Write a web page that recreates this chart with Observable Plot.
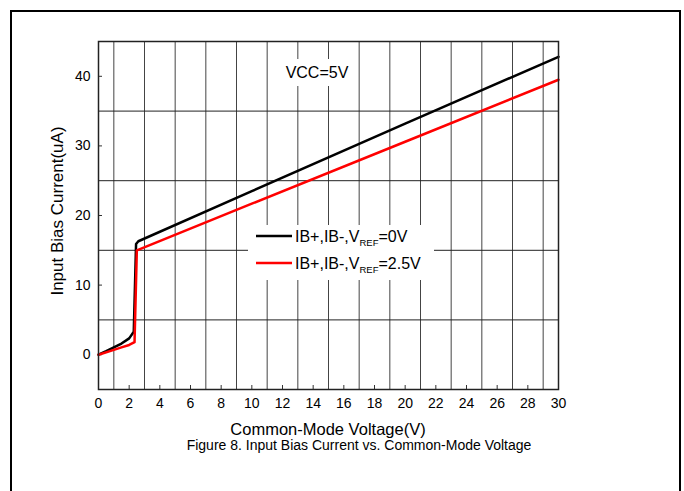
<!DOCTYPE html>
<html>
<head>
<meta charset="utf-8">
<script src="https://cdn.jsdelivr.net/npm/d3@7"></script>
<script src="https://cdn.jsdelivr.net/npm/@observablehq/plot@0.6"></script>
<style>
  html, body { margin: 0; padding: 0; background: #fff; overflow: hidden; }
  #wrap { position: relative; width: 684px; height: 491px; }
  #border { position: absolute; left: 10px; top: 10px; width: 671px; height: 500px; border: 2px solid #000; box-sizing: border-box; pointer-events: none; }
  svg { font-family: "Liberation Sans", Arial, sans-serif; }
</style>
</head>
<body>
<div id="wrap"><div id="border"></div></div>
<script>
// Data
const blackX = [0, 0.5, 1, 1.5, 2, 2.3, 2.45, 2.6, 10, 20, 30];
const blackY = [0, 0.5, 1.05, 1.6, 2.35, 3.3, 15.9, 16.3, 23.5, 33.2, 42.8];
const redX = [0, 1, 1.5, 2, 2.35, 2.5, 10, 20, 30];
const redY = [0, 0.7, 1.05, 1.4, 1.8, 15.0, 21.7, 30.6, 39.5];
const seriesNames = ["IB+,IB-,VREF=0V", "IB+,IB-,VREF=2.5V"];
const seriesColors = ["#000000", "#ff0000"];
const xTicks = d3.range(0, 31, 2);
const yTicks = [0, 10, 20, 30, 40];
const xGrid = d3.range(1, 30, 2);
const yGrid = [5, 15, 25, 35];

const black = blackX.map((x, i) => ({x, y: blackY[i], s: seriesNames[0]}));
const red = redX.map((x, i) => ({x, y: redY[i], s: seriesNames[1]}));

const plot = Plot.plot({
  width: 684,
  height: 491,
  marginLeft: 98,
  marginRight: 126,
  marginTop: 41,
  marginBottom: 102,
  style: {fontFamily: "Liberation Sans, Arial, sans-serif", background: "transparent"},
  x: {domain: [0, 30]},
  y: {domain: [-5, 45]},
  marks: [
    Plot.ruleX(xGrid, {stroke: "#444", strokeWidth: 1}),
    Plot.ruleY(yGrid, {stroke: "#222", strokeWidth: 1}),
    Plot.axisX(xTicks, {tickSize: -4, tickFormat: () => "", stroke: "#333", label: null}),
    Plot.axisX(xTicks, {tickSize: 0, tickPadding: 9, fontSize: 14, fill: "#000", label: null}),
    Plot.axisY(yTicks, {tickSize: -4, tickFormat: () => "", stroke: "#333", label: null}),
    Plot.axisY(yTicks, {tickSize: 0, tickPadding: 8, fontSize: 14, fill: "#000", label: null}),
    Plot.line(black, {x: "x", y: "y", stroke: seriesColors[0], strokeWidth: 2.5}),
    Plot.line(red, {x: "x", y: "y", stroke: seriesColors[1], strokeWidth: 2.5}),
    Plot.frame({stroke: "#222", strokeWidth: 1.5})
  ]
});
document.getElementById("wrap").appendChild(plot);

const svg = d3.select(plot);
const fs = "Liberation Sans, Arial, sans-serif";

// VCC label box
const vcc = svg.append("g");
vcc.append("rect").attr("x", 281).attr("y", 59).attr("width", 72).attr("height", 27).attr("fill", "#fff");
vcc.append("text").attr("x", 317).attr("y", 78).attr("text-anchor", "middle")
  .attr("font-family", fs).attr("font-size", 16).attr("fill", "#000").text("VCC=5V");

// Legend
const leg = svg.append("g");
leg.append("rect").attr("x", 248).attr("y", 225).attr("width", 186).attr("height", 55).attr("fill", "#fff");
[0, 1].forEach(i => {
  const yy = 236 + i * 27;
  leg.append("line").attr("x1", 256).attr("x2", 292).attr("y1", yy).attr("y2", yy)
    .attr("stroke", seriesColors[i]).attr("stroke-width", 2.5);
  const t = leg.append("text").attr("x", 295).attr("y", yy + 6).attr("text-anchor", "start")
    .attr("font-family", fs).attr("font-size", 16).attr("fill", "#000");
  const parts = seriesNames[i].split("VREF");
  t.append("tspan").text(parts[0] + "V");
  t.append("tspan").attr("font-size", 9.5).attr("dy", 4).text("REF");
  t.append("tspan").attr("dy", -4).text(parts[1]);
});

// Axis titles and caption
svg.append("text").attr("transform", "translate(63,211) rotate(-90)").attr("text-anchor", "middle")
  .attr("font-family", fs).attr("font-size", 17).attr("fill", "#000").text("Input Bias Current(uA)");
svg.append("text").attr("x", 328).attr("y", 435).attr("text-anchor", "middle")
  .attr("font-family", fs).attr("font-size", 16.5).attr("fill", "#000").text("Common-Mode Voltage(V)");
svg.append("text").attr("x", 359).attr("y", 450).attr("text-anchor", "middle")
  .attr("font-family", fs).attr("font-size", 14).attr("fill", "#000").text("Figure 8. Input Bias Current vs. Common-Mode Voltage");
</script>
</body>
</html>
